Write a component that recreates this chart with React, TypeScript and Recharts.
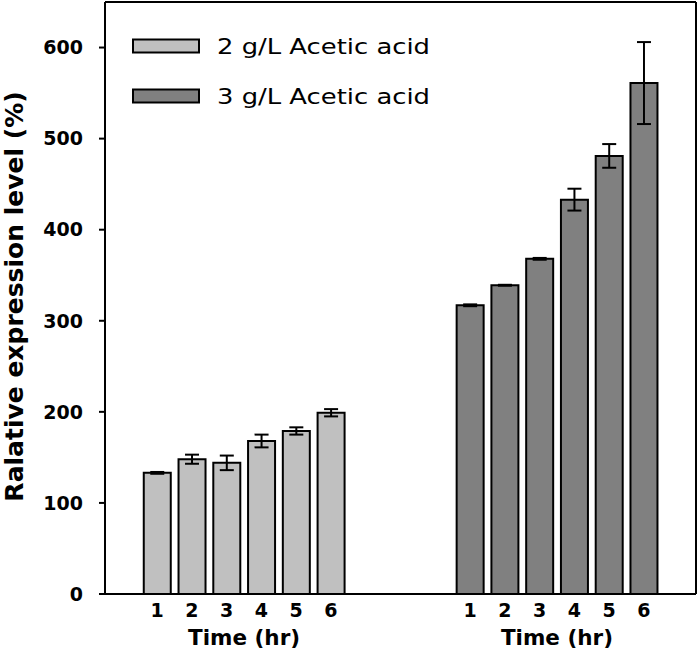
import React from 'react';
import { BarChart, Bar, XAxis, YAxis, ErrorBar, Cell, Legend, Label } from 'recharts';

// ---- data ----
const timePoints = ['1', '2', '3', '4', '5', '6'];
const groupAxisTitle = 'Time (hr)';
const seriesNames = ['2 g/L Acetic acid', '3 g/L Acetic acid'];
const seriesColors = ['#c0c0c0', '#808080'];
const values2gL = [133, 148, 144, 168, 179, 199];
const errors2gL = [1, 5, 8, 7, 4, 4];
const values3gL = [317, 339, 368, 433, 481, 561];
const errors3gL = [1, 0.5, 1, 12, 13, 45];
const yTicks = [0, 100, 200, 300, 400, 500, 600];
const yLabel = 'Ralative expression level (%)';

// ---- build chart rows (empty slots separate the groups) ----
type Row = { slot: number; label: string; value?: number; err?: number; group: number; title?: boolean };
const rows: Row[] = [];
const pushPad = () => rows.push({ slot: rows.length, label: '', group: -1 });
pushPad();
timePoints.forEach((t, i) =>
  rows.push({ slot: rows.length, label: t, value: values2gL[i], err: errors2gL[i], group: 0, title: i === 2 })
);
pushPad();
pushPad();
pushPad();
timePoints.forEach((t, i) =>
  rows.push({ slot: rows.length, label: t, value: values3gL[i], err: errors3gL[i], group: 1, title: i === 2 })
);
pushPad();

const W = 700;
const H = 654;
const Y_AXIS_W = 105;
const RIGHT_W = 4;
const TOP_H = 2;
const X_AXIS_H = 60;
const BAND = (W - Y_AXIS_W - RIGHT_W) / rows.length;
const FONT = '"DejaVu Sans", sans-serif';

const XTick = (props: any) => {
  const { x, y, payload } = props;
  const row = rows[payload.index] ?? rows[payload.value];
  if (!row) return null;
  return (
    <g>
      <text x={x} y={y + 23} textAnchor="middle" fontFamily={FONT} fontWeight="bold" fontSize={19} fill="#000">
        {row.label}
      </text>
      {row.title ? (
        <text x={x + BAND / 2} y={y + 51} textAnchor="middle" fontFamily={FONT} fontWeight="bold" fontSize={21.5} fill="#000">
          {groupAxisTitle}
        </text>
      ) : null}
    </g>
  );
};

const LegendContent = () => (
  <svg width={460} height={120} style={{ display: 'block' }}>
    {seriesNames.map((name, i) => (
      <g key={name}>
        <rect x={133} y={39.5 + 50 * i} width={66} height={13} fill={seriesColors[i]} stroke="#000" strokeWidth={2} />
        <text
          x={217}
          y={53.5 + 50 * i}
          fontFamily={FONT}
          fontSize={21}
          fill="#000"
          textLength={213}
          lengthAdjust="spacingAndGlyphs"
        >
          {name}
        </text>
      </g>
    ))}
  </svg>
);

const YLabel = (props: any) => {
  const vb = props.viewBox || { x: 0, y: TOP_H, width: Y_AXIS_W, height: H - TOP_H - X_AXIS_H };
  const cx = vb.x + 23;
  const cy = vb.y + vb.height / 2 - 1.5;
  return (
    <text
      transform={`translate(${cx},${cy}) rotate(-90)`}
      textAnchor="middle"
      fontFamily={FONT}
      fontWeight="bold"
      fontSize={25}
      fill="#000"
    >
      {yLabel}
    </text>
  );
};

export default function App() {
  return (
    <div style={{ position: 'absolute', left: 0, top: 0, background: '#fff' }}>
      <BarChart
        width={W}
        height={H}
        data={rows}
        margin={{ top: 0, right: 0, left: 0, bottom: 0 }}
        barCategoryGap={0}
        barSize={27}
      >
        <XAxis
          dataKey="slot"
          type="category"
          height={X_AXIS_H}
          tickLine={false}
          tickSize={0}
          tickMargin={0}
          interval={0}
          tick={<XTick />}
          axisLine={{ stroke: '#000', strokeWidth: 2 }}
        />
        <XAxis
          xAxisId="top"
          dataKey="slot"
          orientation="top"
          height={TOP_H}
          tick={false}
          tickLine={false}
          axisLine={{ stroke: '#000', strokeWidth: 2 }}
        />
        <YAxis
          width={Y_AXIS_W}
          domain={[0, 650]}
          ticks={yTicks}
          interval={0}
          tickSize={6}
          tickMargin={16}
          tickLine={{ stroke: '#000', strokeWidth: 2 }}
          axisLine={{ stroke: '#000', strokeWidth: 2 }}
          tick={{ fill: '#000', fontFamily: FONT, fontWeight: 'bold', fontSize: 19 }}
        >
          <Label content={<YLabel />} />
        </YAxis>
        <YAxis
          yAxisId="right"
          orientation="right"
          width={RIGHT_W}
          domain={[0, 650]}
          tick={false}
          tickLine={false}
          axisLine={{ stroke: '#000', strokeWidth: 2 }}
        />
        <Legend
          layout="vertical"
          align="center"
          verticalAlign="middle"
          wrapperStyle={{ position: 'absolute', left: 0, top: 0, width: 460, height: 120 }}
          content={<LegendContent />}
        />
        <Bar dataKey="value" stroke="#000" strokeWidth={2} isAnimationActive={false}>
          {rows.map((r) => (
            <Cell key={r.slot} fill={r.group >= 0 ? seriesColors[r.group] : 'none'} />
          ))}
          <ErrorBar dataKey="err" direction="y" width={7} stroke="#000" strokeWidth={2} />
        </Bar>
      </BarChart>
    </div>
  );
}
